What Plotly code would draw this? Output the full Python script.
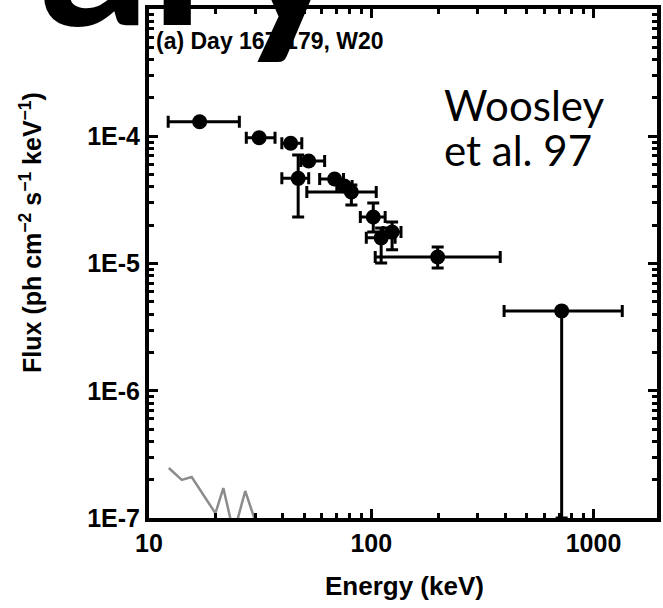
import plotly.graph_objects as go

# ---- data ----
energy = [16.9, 31.3, 43.4, 52.3, 46.9, 68.4, 75.7, 81.4, 102.1, 110.8, 124.1, 199.0, 719.0]
energy_lo = [12.2, 27.4, 39.6, 48.2, 39.6, 58.6, 70.0, 51.3, 89.3, 95.0, 113.1, 104.2, 396.0]
energy_hi = [25.5, 36.9, 48.7, 61.7, 52.3, 75.0, 82.0, 105.3, 115.5, 128.0, 136.1, 380.5, 1347.0]
flux = [1.30e-4, 9.74e-5, 8.80e-5, 6.39e-5, 4.67e-5, 4.61e-5, 4.06e-5, 3.65e-5, 2.32e-5, 1.59e-5, 1.77e-5, 1.125e-5, 4.24e-6]
flux_lo = [1.24e-4, 9.3e-5, 8.4e-5, 6.1e-5, 2.32e-5, 4.4e-5, 3.9e-5, 2.88e-5, 1.77e-5, 1.01e-5, 1.28e-5, 9.22e-6, 1.0e-7]
flux_hi = [1.36e-4, 1.02e-4, 9.2e-5, 6.7e-5, 7.12e-5, 4.8e-5, 4.25e-5, 4.13e-5, 2.99e-5, 1.90e-5, 2.12e-5, 1.35e-5, 4.24e-6]

bg_energy = [12.28, 14.04, 15.56, 17.78, 19.9, 21.6, 23.7, 24.5, 27.1, 30.7]
bg_flux = [2.47e-7, 1.99e-7, 2.10e-7, 1.46e-7, 1.09e-7, 1.72e-7, 8.5e-8, 8.5e-8, 1.63e-7, 8.5e-8]

x_tick_vals = [10, 100, 1000]
x_tick_text = ["10", "100", "1000"]
y_tick_vals = [1e-7, 1e-6, 1e-5, 1e-4, 1e-3]
y_tick_text = ["1E-7", "1E-6", "1E-5", "1E-4", "1E-3"]

x_minor = [m * d for d in (10, 100, 1000) for m in range(2, 10)]
y_minor = [m * d for d in (1e-7, 1e-6, 1e-5, 1e-4) for m in range(2, 10)]

W, H = 663, 608
L, R, T, B = 149, 2, 9, 90
pw, ph = W - L - R, H - T - B


def px(x):
    return (x - L) / pw


def py(y):
    return (H - B - y) / ph


fig = go.Figure()
fig.add_trace(go.Scatter(
    x=bg_energy, y=bg_flux, mode="lines",
    line=dict(color="#8c8c8c", width=2.5), showlegend=False, hoverinfo="skip"))
fig.add_trace(go.Scatter(
    x=energy, y=flux, mode="markers",
    marker=dict(color="black", size=15, line=dict(width=0)),
    error_x=dict(type="data", symmetric=False,
                 array=[h - e for h, e in zip(energy_hi, energy)],
                 arrayminus=[e - l for e, l in zip(energy, energy_lo)],
                 color="black", thickness=3, width=6),
    error_y=dict(type="data", symmetric=False,
                 array=[h - f for h, f in zip(flux_hi, flux)],
                 arrayminus=[f - l for f, l in zip(flux, flux_lo)],
                 color="black", thickness=3, width=6),
    showlegend=False))

tickfont = dict(family="Liberation Sans", size=25, color="black", weight="bold")
axis_common = dict(
    type="log", showline=True, linewidth=4, linecolor="black", mirror="allticks",
    ticks="inside", ticklen=9, tickwidth=3, tickcolor="black",
    showgrid=False, zeroline=False, tickfont=tickfont,
)
fig.update_xaxes(range=[1, 1 + pw / 224.0], tickvals=x_tick_vals, ticktext=x_tick_text,
                 minor=dict(tickvals=x_minor, ticks="inside", ticklen=5, tickwidth=3,
                            tickcolor="black", showgrid=False),
                 **axis_common)
fig.update_yaxes(range=[-7, -3], tickvals=y_tick_vals, ticktext=y_tick_text,
                 minor=dict(tickvals=y_minor, ticks="inside", ticklen=5, tickwidth=3,
                            tickcolor="black", showgrid=False),
                 **axis_common)

ann = [
    dict(text="(a) Day 167-179, W20", x=px(154), y=py(41), xanchor="left", yanchor="middle",
         font=dict(family="Liberation Sans", size=23, color="black", weight="bold")),
    dict(text="Woosley", x=px(444), y=py(105), xanchor="left", yanchor="middle",
         font=dict(family="Lato", size=42, color="black")),
    dict(text="et al. 97", x=px(444), y=py(150), xanchor="left", yanchor="middle",
         font=dict(family="Lato", size=42, color="black")),
    dict(text="Flux (ph cm<sup>−2</sup> s<sup>−1</sup> keV<sup>−1</sup>)", x=px(30), y=py(232),
         textangle=-90, xanchor="center", yanchor="middle",
         font=dict(family="Liberation Sans", size=25, color="black", weight="bold")),
    dict(text="Energy (keV)", x=px(407), y=py(586), xanchor="center", yanchor="middle",
         font=dict(family="Liberation Sans", size=26, color="black", weight="bold")),
    dict(text="rary", x=px(352), y=py(74), xanchor="right", yanchor="bottom",
         font=dict(family="Lato", size=220, color="black", weight="bold")),
]
for a in ann:
    a.update(xref="paper", yref="paper", showarrow=False)

fig.update_layout(
    width=W, height=H, margin=dict(l=L, r=R, t=T, b=B, pad=0),
    paper_bgcolor="white", plot_bgcolor="white",
    annotations=ann, showlegend=False,
)
fig.write_html("out.html")
